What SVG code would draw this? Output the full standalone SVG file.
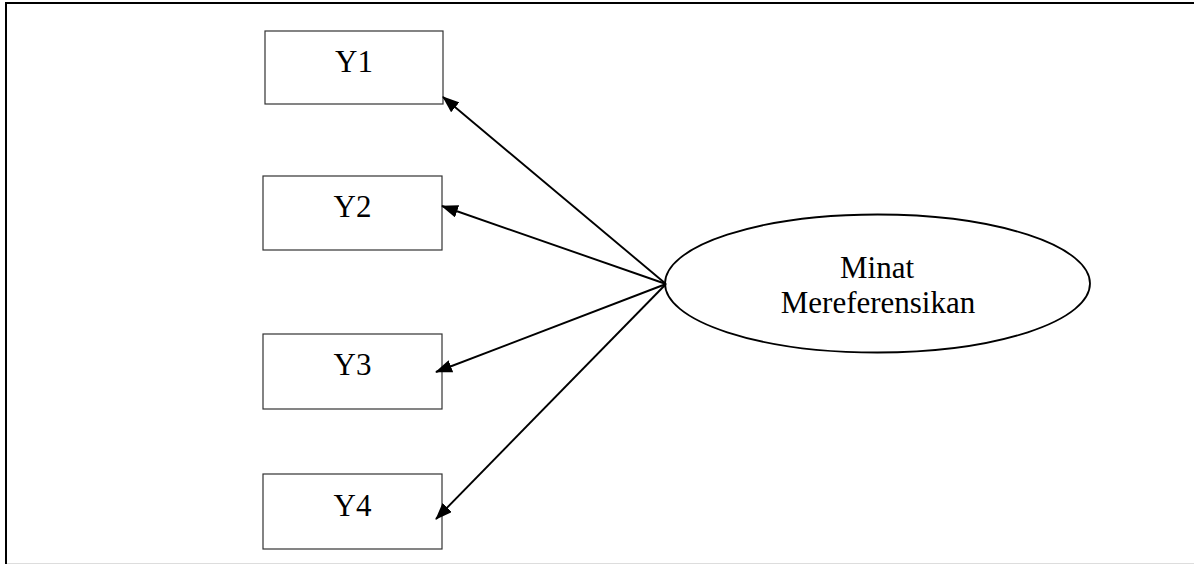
<svg xmlns="http://www.w3.org/2000/svg" width="1194" height="564" viewBox="0 0 1194 564">
  <style>
    .box { fill: #ffffff; stroke: #333333; stroke-width: 1.2; }
    .oval { fill: #ffffff; stroke: #000000; stroke-width: 1.8; }
    .lbl { font-family: "Liberation Serif", "Times New Roman", serif; font-size: 31px; fill: #000000; text-anchor: middle; }
    .edge { stroke: #000000; stroke-width: 1.9; fill: none; marker-end: url(#head); }
  </style>
  <defs>
    <marker id="head" markerUnits="userSpaceOnUse" viewBox="0 0 17 13" refX="16" refY="6.5" markerWidth="17" markerHeight="13" orient="auto">
      <path d="M0,0 L17,6.5 L0,13 Z" fill="#000000"/>
    </marker>
  </defs>

  <rect x="0" y="0" width="1194" height="564" fill="#ffffff"/>

  <!-- frame -->
  <g id="frame">
    <line x1="6" y1="3" x2="1194" y2="3" stroke="#000000" stroke-width="2"/>
    <line x1="6" y1="2" x2="6" y2="564" stroke="#000000" stroke-width="2"/>
    <line x1="7" y1="563.5" x2="1194" y2="563.5" stroke="#dddddd" stroke-width="1"/>
  </g>

  <g id="y1">
    <rect class="box" x="265" y="31" width="178" height="73"/>
    <text class="lbl" x="354" y="72">Y1</text>
  </g>
  <g id="y2">
    <rect class="box" x="263" y="176" width="179" height="74"/>
    <text class="lbl" x="352.5" y="217">Y2</text>
  </g>
  <g id="y3">
    <rect class="box" x="263" y="334" width="179" height="75"/>
    <text class="lbl" x="352.5" y="375">Y3</text>
  </g>
  <g id="y4">
    <rect class="box" x="263" y="474" width="179" height="75"/>
    <text class="lbl" x="352.5" y="516">Y4</text>
  </g>

  <g id="minat">
    <ellipse class="oval" cx="877.5" cy="283.5" rx="212.5" ry="69"/>
    <text class="lbl" x="877" y="278">Minat</text>
    <text class="lbl" x="878" y="313">Mereferensikan</text>
  </g>

  <g id="connectors">
    <line class="edge" x1="666" y1="284" x2="443" y2="97"/>
    <line class="edge" x1="666" y1="284" x2="442" y2="206"/>
    <line class="edge" x1="666" y1="284" x2="436" y2="372"/>
    <line class="edge" x1="666" y1="284" x2="436" y2="519"/>
  </g>
</svg>
